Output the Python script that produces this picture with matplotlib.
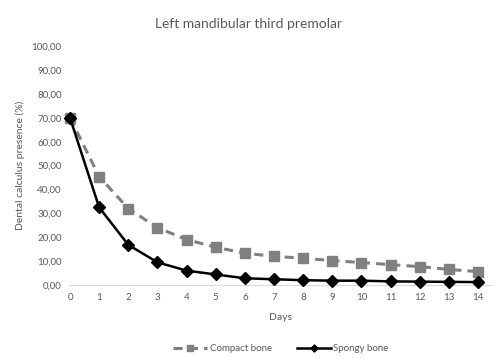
import matplotlib.pyplot as plt

days = list(range(0, 15))
compact_bone = [70.0, 45.4, 32.0, 24.0, 19.0, 15.8, 13.3, 12.0, 11.2, 10.2, 9.4, 8.5, 7.7, 6.5, 5.6]
spongy_bone = [70.0, 32.5, 16.8, 9.5, 6.0, 4.4, 2.8, 2.4, 2.0, 1.8, 1.8, 1.5, 1.4, 1.3, 1.2]
yticks = [0, 10, 20, 30, 40, 50, 60, 70, 80, 90, 100]

plt.rcParams['font.family'] = ['Lato', 'DejaVu Sans']
txt = '#595959'

fig = plt.figure(figsize=(5, 3.58), dpi=100)
ax = fig.add_axes([0.14, 0.204, 0.844, 0.667])

ax.plot(days, compact_bone, color='#808080', linestyle=(0, (3, 2)), linewidth=2.2,
        marker='s', markersize=7, label='Compact bone')
ax.plot(days, spongy_bone, color='black', linewidth=1.8,
        marker='D', markersize=6, label='Spongy bone')

ax.set_xlim(0, 14.48)
ax.set_ylim(0, 100)
ax.set_xticks(days)
ax.set_yticks(yticks)
ax.set_yticklabels([f'{v:.2f}'.replace('.', ',') for v in yticks])
ax.tick_params(length=0, labelsize=7, colors=txt, pad=6)

for s in ['top', 'right', 'left']:
    ax.spines[s].set_visible(False)
ax.spines['bottom'].set_color('#d9d9d9')
ax.spines['bottom'].set_zorder(0)

for m in ax.lines:
    m.set_clip_on(False)

fig.suptitle('Left mandibular third premolar', x=0.497, y=0.95, fontsize=10, color=txt)
ax.set_xlabel('Days', fontsize=7.5, color=txt, labelpad=8)
ax.set_ylabel('Dental calculus presence (%)', fontsize=7.5, color=txt, labelpad=5)

ax.legend(loc='center', bbox_to_anchor=(0.5, -0.267), ncol=2, frameon=False,
          fontsize=7, labelcolor=txt, handlelength=3.5, columnspacing=2.5,
          handletextpad=0.3, markerscale=0.6)

fig.savefig('out.png', dpi=100)
